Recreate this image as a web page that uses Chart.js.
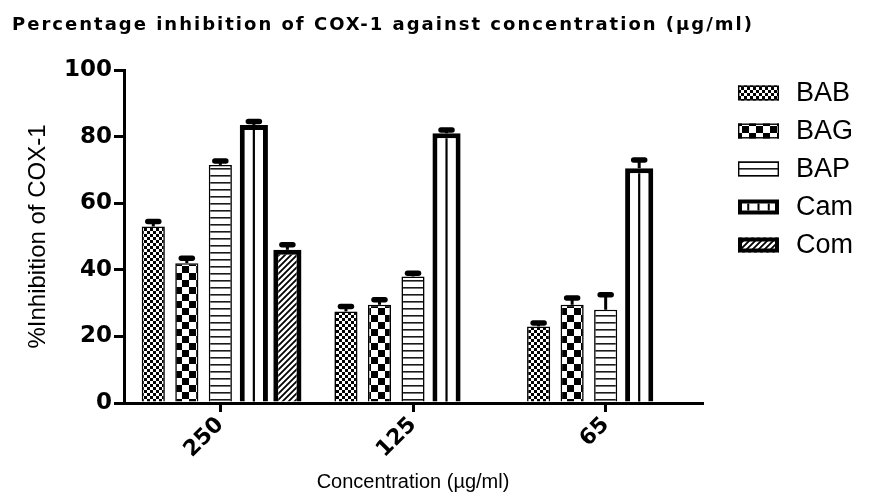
<!DOCTYPE html>
<html>
<head>
<meta charset="utf-8">
<script src="https://cdn.jsdelivr.net/npm/chart.js@4.4.1/dist/chart.umd.min.js"></script>
<style>
  html, body { margin: 0; padding: 0; background: #fff; }
  #wrap { width: 872px; height: 497px; }
</style>
</head>
<body>
<div id="wrap"><canvas id="coxChart" width="872" height="497"></canvas></div>
<script>
// concentrations (µg/ml) and mean % inhibition with upper SEM for each extract
const concentrations = ['250', '125', '65']
const seriesNames = ['BAB', 'BAG', 'BAP', 'Cam', 'Com']

const babValues = [53, 27.5, 23]
const babErrors = [1.5, 1.5, 1]
const bagValues = [42, 29.5, 29.5]
const bagErrors = [1.5, 1.5, 2]
const bapValues = [71.5, 38, 28]
const bapErrors = [1.2, 1, 4.5]
const camValues = [83.5, 81, 70.5]
const camErrors = [1, 1, 2.5]
const comValues = [46, null, null]
const comErrors = [1.5, null, null]

const yTicks = [0, 20, 40, 60, 80, 100]

const FONT = "'Liberation Sans', Arial, Helvetica, sans-serif"
const BOLD_FONT = "'DejaVu Sans', 'Liberation Sans', sans-serif"

Chart.defaults.font.family = FONT
Chart.defaults.color = '#000'

function makePattern(size, draw) {
    const c = document.createElement('canvas')
    c.width = size
    c.height = size
    const g = c.getContext('2d')
    g.fillStyle = '#fff'
    g.fillRect(0, 0, size, size)
    g.fillStyle = '#000'
    g.strokeStyle = '#000'
    draw(g, size)
    return g.createPattern(c, 'repeat')
}

// small checker
const fineChecker = makePattern(6, (g) => {
    g.fillRect(0, 0, 3, 3)
    g.fillRect(3, 3, 3, 3)
})
// big checker
const bigChecker = makePattern(14, (g) => {
    g.fillRect(0, 0, 7, 7)
    g.fillRect(7, 7, 7, 7)
})
// horizontal rules
const hLines = makePattern(7, (g) => {
    g.fillStyle = '#1a1a1a'
    g.fillRect(0, 0, 7, 1.6)
})
// forward hatching
const hatch = makePattern(6, (g, s) => {
    g.lineWidth = 1.8
    g.beginPath()
    g.moveTo(-1, s + 1); g.lineTo(s + 1, -1)
    g.moveTo(-1, 1); g.lineTo(1, -1)
    g.moveTo(s - 1, s + 1); g.lineTo(s + 1, s - 1)
    g.stroke()
})

function makeSet(label, data, errors, fill, thick) {
    return {
        label: label,
        data: data,
        errors: errors,
        backgroundColor: fill,
        borderColor: '#000',
        borderWidth: thick ? 5 : 1.6,
        borderSkipped: 'start',
        barPercentage: thick ? 0.84 : 0.69,
        categoryPercentage: 0.87
    }
}

const datasets = [
    makeSet(seriesNames[0], babValues, babErrors, fineChecker, false),
    makeSet(seriesNames[1], bagValues, bagErrors, bigChecker, false),
    makeSet(seriesNames[2], bapValues, bapErrors, hLines, false),
    makeSet(seriesNames[3], camValues, camErrors, '#fff', true),
    makeSet(seriesNames[4], comValues, comErrors, hatch, true)
]
datasets[3].centerLine = true

// upper error bars and the divider inside the Cam bars
const barExtras = {
    id: 'barExtras',
    afterDatasetsDraw(chart) {
        const ctx = chart.ctx
        const yScale = chart.scales.y
        ctx.save()
        ctx.strokeStyle = '#000'
        chart.data.datasets.forEach((ds, i) => {
            const meta = chart.getDatasetMeta(i)
            meta.data.forEach((bar, j) => {
                const v = ds.data[j]
                if (v == null) return
                if (ds.centerLine) {
                    ctx.lineWidth = 2.2
                    ctx.lineCap = 'butt'
                    ctx.beginPath()
                    ctx.moveTo(bar.x, bar.y + ds.borderWidth)
                    ctx.lineTo(bar.x, bar.base)
                    ctx.stroke()
                }
                const e = ds.errors[j]
                if (e == null) return
                const y0 = yScale.getPixelForValue(v)
                const y1 = yScale.getPixelForValue(v + e)
                ctx.lineCap = 'butt'
                ctx.lineWidth = 3
                ctx.beginPath()
                ctx.moveTo(bar.x, y0)
                ctx.lineTo(bar.x, y1)
                ctx.stroke()
                ctx.lineWidth = 5.5
                ctx.lineCap = 'round'
                ctx.beginPath()
                ctx.moveTo(bar.x - 5.5, y1)
                ctx.lineTo(bar.x + 5.5, y1)
                ctx.stroke()
            })
        })
        ctx.restore()
    }
}

// spaced-out bold heading
const heading = {
    id: 'heading',
    afterDraw(chart, args, opts) {
        const ctx = chart.ctx
        ctx.save()
        ctx.font = 'bold 18px ' + BOLD_FONT
        ctx.fillStyle = '#000'
        ctx.textBaseline = 'alphabetic'
        const w = ctx.measureText(opts.text).width
        const gap = Math.max(0, (opts.width - w) / (opts.text.length - 1))
        ctx.letterSpacing = gap + 'px'
        ctx.fillText(opts.text, opts.x, opts.y)
        ctx.restore()
    }
}

// legend column on the right
const sideLegend = {
    id: 'sideLegend',
    afterDraw(chart, args, opts) {
        const ctx = chart.ctx
        ctx.save()
        chart.data.datasets.forEach((ds, i) => {
            const cy = opts.top + i * opts.step
            const bx = opts.x, by = cy - opts.boxH / 2
            const bw = ds.borderWidth > 2 ? 4 : 1.4
            ctx.fillStyle = ds.backgroundColor
            ctx.fillRect(bx, by, opts.boxW, opts.boxH)
            ctx.strokeStyle = '#000'
            ctx.lineWidth = bw
            ctx.strokeRect(bx + bw / 2, by + bw / 2, opts.boxW - bw, opts.boxH - bw)
            if (ds.centerLine) {
                ctx.lineWidth = 2
                for (let k = 1; k < 4; k++) {
                    const lx = bx + opts.boxW * k / 4
                    ctx.beginPath()
                    ctx.moveTo(lx, by + bw)
                    ctx.lineTo(lx, by + opts.boxH - bw)
                    ctx.stroke()
                }
            }
            ctx.fillStyle = '#000'
            ctx.font = '27px ' + FONT
            ctx.textBaseline = 'middle'
            ctx.fillText(ds.label, opts.textX, cy + 1)
        })
        ctx.restore()
    }
}

const ctx = document.getElementById('coxChart').getContext('2d')
new Chart(ctx, {
    type: 'bar',
    data: {
        labels: concentrations,
        datasets: datasets
    },
    plugins: [barExtras, heading, sideLegend],
    options: {
        responsive: false,
        animation: false,
        layout: { padding: { top: 70, right: 170, bottom: 0, left: 0 } },
        plugins: {
            legend: { display: false },
            tooltip: { enabled: false },
            heading: { text: 'Percentage inhibition of COX-1 against concentration (µg/ml)', x: 12, y: 30, width: 740 },
            sideLegend: { x: 738, textX: 796, top: 93, step: 38, boxW: 41, boxH: 15 }
        },
        scales: {
            x: {
                offset: true,
                grid: { drawOnChartArea: false, drawTicks: true, tickLength: 9, offset: false, color: '#000', lineWidth: 3 },
                border: { color: '#000', width: 3 },
                ticks: { color: '#000', font: { family: BOLD_FONT, size: 22, weight: 'bold' }, minRotation: 45, maxRotation: 45, padding: 0 },
                title: { display: true, text: 'Concentration (µg/ml)', color: '#000', font: { size: 20 }, padding: { top: 0, bottom: 3 } },
                afterFit(scale) { scale.height = 94 }
            },
            y: {
                min: 0,
                max: 100,
                afterBuildTicks(scale) { scale.ticks = yTicks.map(v => ({ value: v })) },
                grid: { drawOnChartArea: false, drawTicks: true, tickLength: 10, color: '#000', lineWidth: 3 },
                border: { color: '#000', width: 3 },
                ticks: { color: '#000', font: { family: BOLD_FONT, size: 23, weight: 'bold' }, padding: 2 },
                title: { display: true, text: '%Inhibition of COX-1', color: '#000', font: { size: 24 }, padding: { top: 24, bottom: 0 } },
                afterFit(scale) { scale.width = 124 }
            }
        }
    }
})
</script>
</body>
</html>
